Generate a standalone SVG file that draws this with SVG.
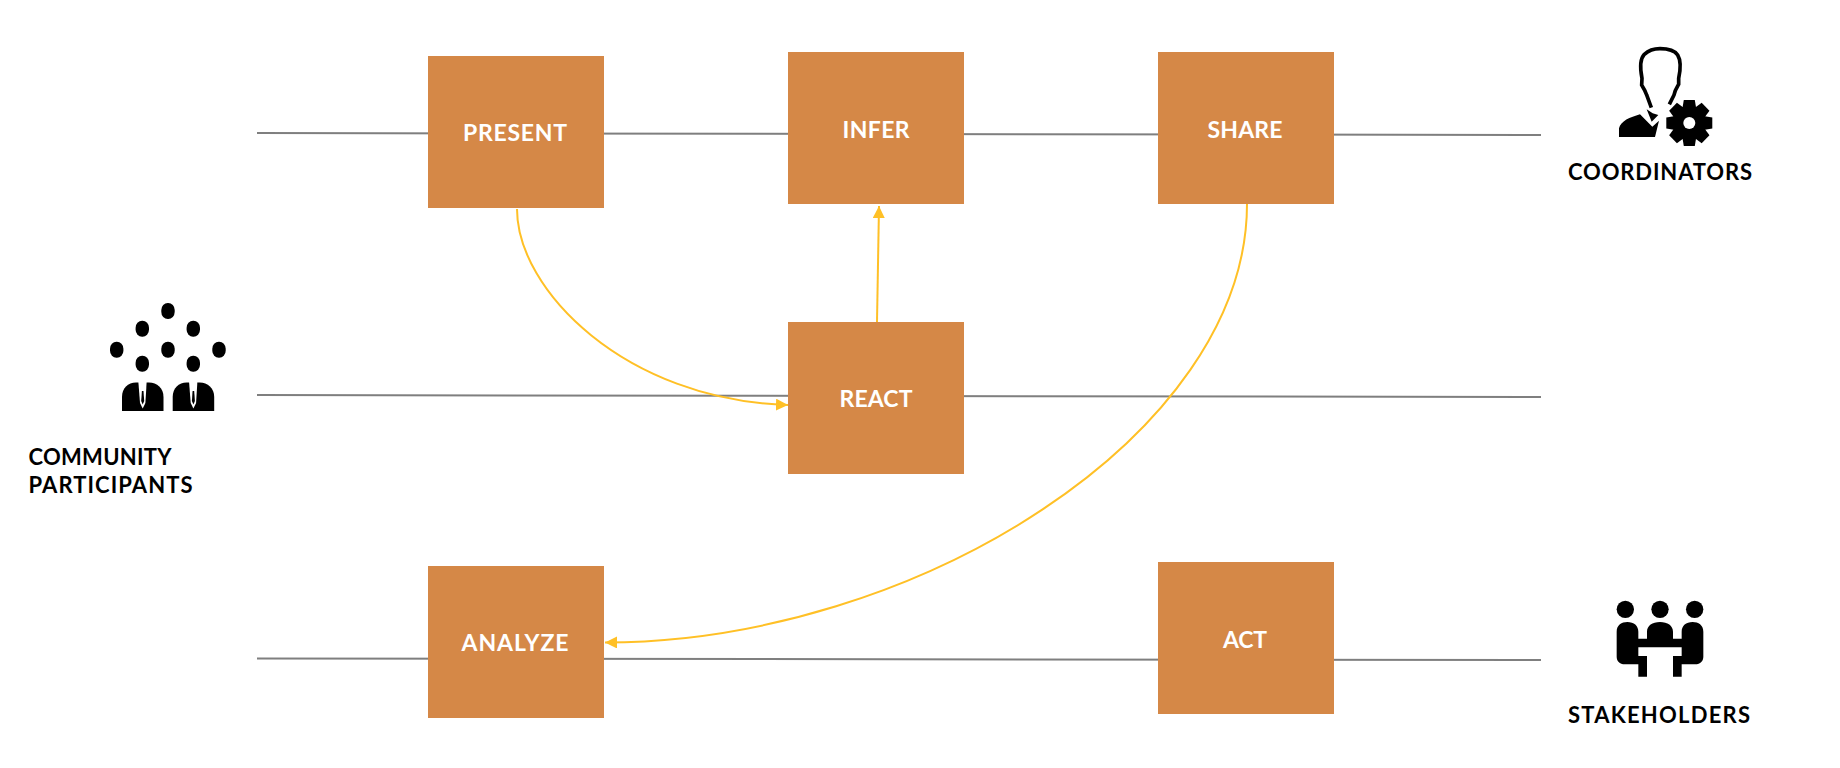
<svg xmlns="http://www.w3.org/2000/svg" width="1840" height="768" viewBox="0 0 1840 768">
<style>
.box{fill:#d58847}
.lane{stroke:#7f7f7f;stroke-width:2;fill:none}
.flow{stroke:#ffc026;stroke-width:2;fill:none;marker-end:url(#ah)}
.nl{font-family:Lato,"Open Sans","Liberation Sans",sans-serif;font-weight:700;font-size:23px;fill:#fff;text-anchor:middle}
.cap{font-family:Lato,"Open Sans","Liberation Sans",sans-serif;font-weight:700;font-size:22px;fill:#000}
.dot{width:13.400px;height:16px;rx:6.500px;ry:7px}
</style>
<defs>
<marker id="ah" markerUnits="userSpaceOnUse" markerWidth="13" markerHeight="12" refX="12" refY="6" orient="auto"><path d="M0 0L12 6L0 12Z" fill="#ffc026"/></marker>
<path id="tooth" d="M-7 -14L-5.500 -23H5.500L7 -14Z"/>
</defs>
<rect width="1840" height="768" fill="#fff"/>
<g id="connectors">
<path class="lane" d="M257 133L1541 135"/>
<path class="lane" d="M257 395L1541 397"/>
<path class="lane" d="M257 658.500L1541 660"/>
<path class="flow" d="M517 209C517 290 625 400 788 405"/>
<path class="flow" d="M877 322L879 206"/>
<path class="flow" d="M1247 204C1247 435 915 642 605 642.500"/>
</g>
<g id="present"><rect class="box" x="428" y="56" width="176" height="152"/><text class="nl" x="515" y="141" textLength="104">PRESENT</text></g>
<g id="infer"><rect class="box" x="788" y="52" width="176" height="152"/><text class="nl" x="876" y="138" textLength="67">INFER</text></g>
<g id="share"><rect class="box" x="1158" y="52" width="176" height="152"/><text class="nl" x="1245" y="137.500" textLength="75">SHARE</text></g>
<g id="react"><rect class="box" x="788" y="322" width="176" height="152"/><text class="nl" x="876" y="407" textLength="73">REACT</text></g>
<g id="analyze"><rect class="box" x="428" y="566" width="176" height="152"/><text class="nl" x="515" y="651" textLength="107">ANALYZE</text></g>
<g id="act"><rect class="box" x="1158" y="562" width="176" height="152"/><text class="nl" x="1245" y="647.500" textLength="44">ACT</text></g>
<g id="community">
<rect class="dot" x="161.300" y="303"/><rect class="dot" x="135.600" y="320.700"/><rect class="dot" x="186.600" y="320.700"/><rect class="dot" x="110" y="341.700"/><rect class="dot" x="161.300" y="341.700"/><rect class="dot" x="212.300" y="341.700"/><rect class="dot" x="135.600" y="355.700"/><rect class="dot" x="186.600" y="355.700"/>
<g id="p1">
<path d="M122 411V397C122 388 128 382.500 136 382.500H149C157 382.500 163.500 388 163.500 397V411Z"/>
<path d="M138.300 381H146.700L145.400 403L142.700 408.500L140 403Z" fill="#fff"/>
<path d="M141.900 391H143.500L144.200 401L142.700 404.500L141.200 401Z"/>
</g>
<use href="#p1" x="50.700"/>
<text class="cap" x="28.500" y="464.500" textLength="143">COMMUNITY</text><text class="cap" x="28.500" y="492.500" textLength="164">PARTICIPANTS</text>
</g>
<g id="coordinators">
<g transform="translate(1610 45) scale(.33333)">
<path d="M124 188L110 150C106 138 100 128 95 120L96 100C90 70 88 44 103 28C118 14 135 11 150 11C168 11 192 14 203 30C214 48 212 72 206 100L206 118C200 128 194 136 192 150L178 178" fill="none" stroke="#000" stroke-width="11"/>
<path d="M27 276V250C32 228 60 217 90 208L127 245L147 227L135 276Z"/>
<path d="M110 193L128 205L145 210L125 230Z"/>
</g>
<g transform="translate(1689.300 123)">
<circle r="17"/>
<use href="#tooth"/><use href="#tooth" transform="rotate(45)"/><use href="#tooth" transform="rotate(90)"/><use href="#tooth" transform="rotate(135)"/><use href="#tooth" transform="rotate(180)"/><use href="#tooth" transform="rotate(225)"/><use href="#tooth" transform="rotate(270)"/><use href="#tooth" transform="rotate(315)"/>
<circle r="6" fill="#fff"/>
</g>
<text class="cap" x="1568" y="179.500" textLength="184">COORDINATORS</text>
</g>
<g id="stakeholders">
<g transform="translate(1540 580) scale(.33333)">
<circle cx="256" cy="88" r="26"/><circle cx="360" cy="88" r="26"/><circle cx="464" cy="88" r="26"/>
<path d="M230 155C230 135 245 126 262 126C282 126 295 137 295 155V176H321V155C321 137 337 126 360 126C383 126 399 137 399 155V176H425V155C425 137 438 126 458 126C475 126 490 135 490 155V230C490 242 482 253 465 253H425V290H399V228H425V202H295V228H321V290H295V253H255C238 253 230 242 230 230Z"/>
</g>
<text class="cap" x="1568" y="723" textLength="182">STAKEHOLDERS</text>
</g>
</svg>
